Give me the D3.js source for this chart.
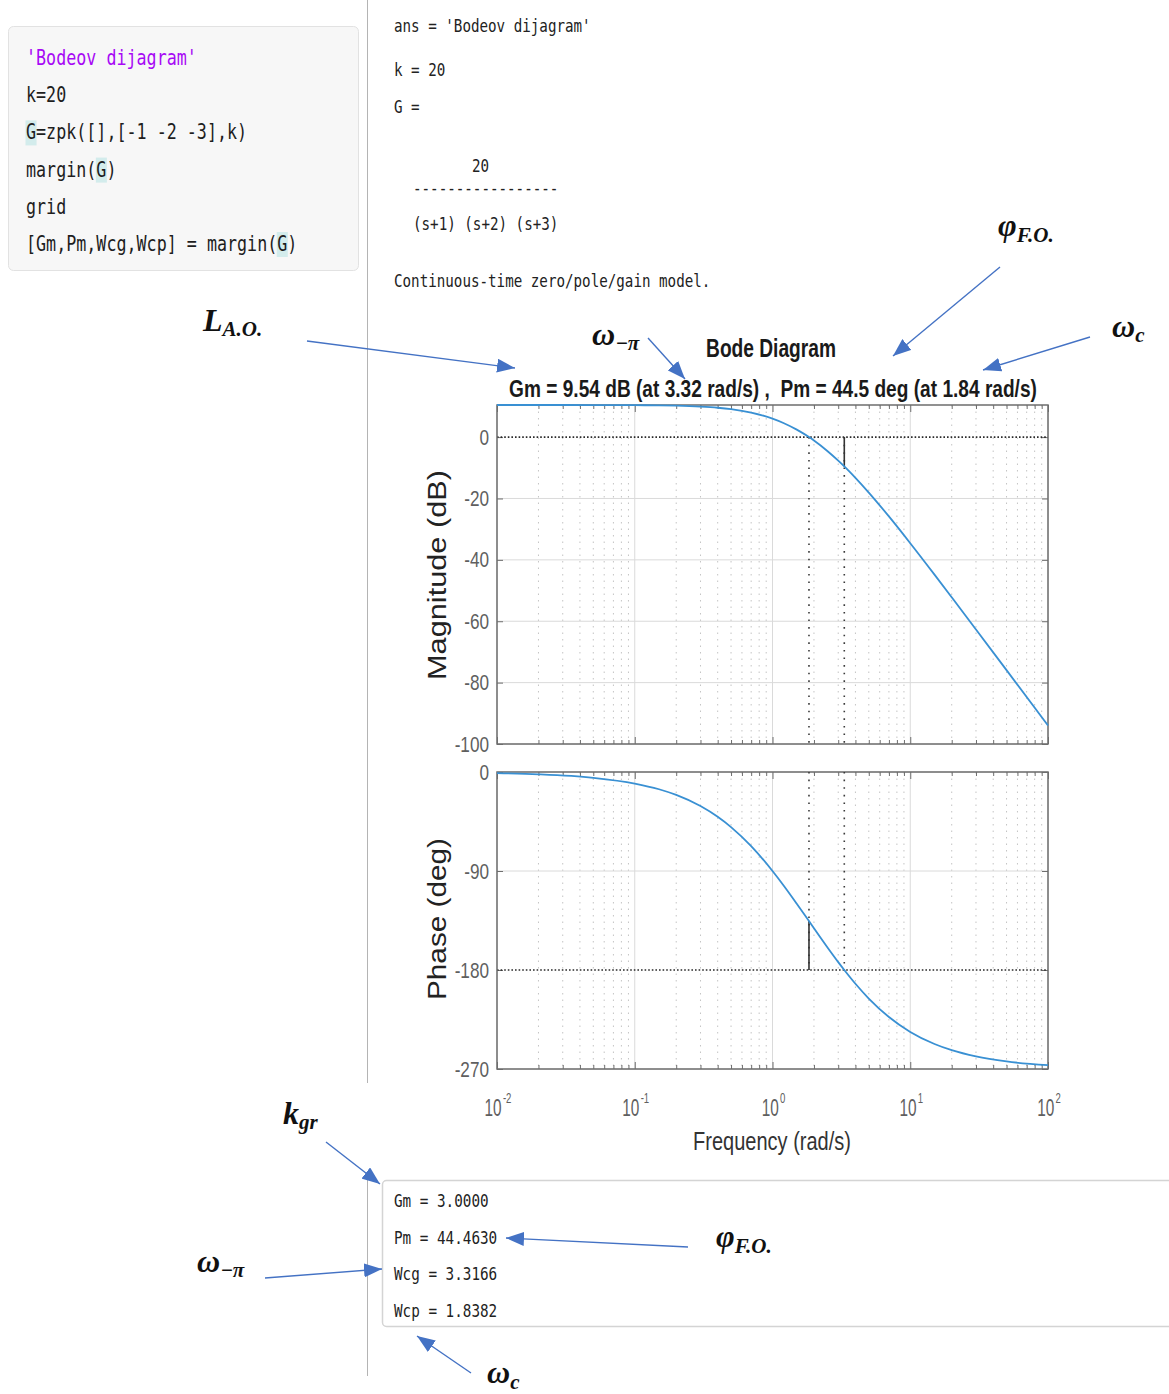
<!DOCTYPE html>
<html>
<head>
<meta charset="utf-8">
<script src="https://cdn.jsdelivr.net/npm/d3@7"></script>
<style>
  body { margin: 0; background: #fff; }
  svg text { font-family: "Liberation Sans", Arial, sans-serif; }
  .mono { font-family: "DejaVu Sans Mono", "Liberation Mono", monospace !important; }
  .math { font-family: "Liberation Serif", "DejaVu Serif", serif !important; font-weight: bold; font-style: italic; }
</style>
</head>
<body>
<svg id="page" width="1169" height="1394"></svg>
<script>
// ---- data ----
var freq = [0.01, 0.02, 0.05, 0.1, 0.15, 0.2, 0.3, 0.4, 0.5, 0.7, 1, 1.2, 1.5, 1.84, 2, 2.5, 3, 3.32, 4, 5, 7, 10, 15, 20, 30, 50, 100];
var magDb = [10.46, 10.46, 10.45, 10.40, 10.33, 10.23, 9.94, 9.57, 9.11, 7.99, 6.02, 4.60, 2.43, 0.0, -1.14, -4.52, -7.67, -9.54, -13.27, -18.07, -25.85, -34.57, -44.81, -52.19, -62.67, -75.94, -93.99];
var phaseDeg = [-1.05, -2.10, -5.25, -10.48, -15.68, -20.83, -30.94, -40.71, -50.07, -67.41, -90.0, -102.95, -119.75, -135.54, -142.12, -159.35, -172.88, -180.0, -192.52, -205.93, -222.72, -236.28, -247.29, -252.9, -258.57, -263.13, -266.56];

var magTicks = [0, -20, -40, -60, -80, -100];
var phaseTicks = [0, -90, -180, -270];
var freqTicks = [0.01, 0.1, 1, 10, 100];
var freqExponents = ["-2", "-1", "0", "1", "2"];

// margin() results
var marginNames = ["Gm", "Pm", "Wcg", "Wcp"];
var marginValues = ["3.0000", "44.4630", "3.3166", "1.8382"];
var gmDb = 9.54, wcg = 3.32, pm = 44.5, wcp = 1.84;

var codeLines = ["'Bodeov dijagram'", "k=20", "G=zpk([],[-1 -2 -3],k)", "margin(G)", "grid", "[Gm,Pm,Wcg,Wcp] = margin(G)"];
var consoleLines = ["ans = 'Bodeov dijagram'", "k = 20", "G =", "20", "-----------------", "(s+1) (s+2) (s+3)", "Continuous-time zero/pole/gain model."];

// ---- layout ----
var plotLeft = 497, plotRight = 1048;
var magTop = 405, magBottom = 744;
var phTop = 772, phBottom = 1069;

var svg = d3.select("#page");

// squeeze text horizontally (the figure in the picture is condensed)
function squeeze(sel, k) {
  sel.each(function() {
    var w = this.getComputedTextLength();
    d3.select(this).attr("textLength", w * k).attr("lengthAdjust", "spacingAndGlyphs");
  });
}
function fitWidth(sel, w) {
  sel.attr("textLength", w).attr("lengthAdjust", "spacingAndGlyphs");
}
// centred text scaled to a target width through a transform
function condensed(str, cx, y, size, width, attrs) {
  var t = svg.append("text").attr("x", 0).attr("y", 0)
    .attr("text-anchor", "middle").attr("font-size", size).text(str);
  Object.keys(attrs || {}).forEach(k => t.attr(k, attrs[k]));
  var k = width / t.node().getComputedTextLength();
  t.attr("transform", `translate(${cx},${y}) scale(${k},1)`);
  return t;
}

// ============ code box ============
svg.append("rect")
  .attr("x", 8.5).attr("y", 26.5).attr("width", 350).attr("height", 244).attr("rx", 5)
  .attr("fill", "#f7f7f7").attr("stroke", "#e2e2e2");

var codeCw = 10.05;
// highlighted G's
[[2, 0], [3, 7], [5, 25]].forEach(function(h) {
  svg.append("rect")
    .attr("x", 26 + h[1] * codeCw - 0.5).attr("y", 65 + h[0] * 37.2 - 19)
    .attr("width", codeCw + 1).attr("height", 25)
    .attr("fill", "#d3ecec");
});
svg.selectAll(".code").data(codeLines).enter()
  .append("text").attr("class", "mono")
  .attr("x", 26).attr("y", (d, i) => 65 + i * 37.2)
  .attr("font-size", 21)
  .attr("fill", (d, i) => i === 0 ? "#a709f5" : "#1e1e1e")
  .attr("xml:space", "preserve")
  .text(d => d)
  .each(function(d) { fitWidth(d3.select(this), d.length * codeCw); });

// separator lines
svg.append("line").attr("x1", 367.5).attr("x2", 367.5).attr("y1", 0).attr("y2", 1083)
  .attr("stroke", "#b4b4b4");
svg.append("line").attr("x1", 367.5).attr("x2", 367.5).attr("y1", 1180).attr("y2", 1376)
  .attr("stroke", "#b4b4b4");

// ============ console output ============
var conCw = 8.55;
var conPos = [[394, 32], [394, 76], [394, 113], [472, 172], [413, 194], [413, 230], [394, 287]];
svg.selectAll(".con").data(consoleLines).enter()
  .append("text").attr("class", "mono")
  .attr("x", (d, i) => conPos[i][0]).attr("y", (d, i) => conPos[i][1])
  .attr("font-size", 18).attr("fill", "#222")
  .text(d => d)
  .each(function(d) { fitWidth(d3.select(this), d.length * conCw); });

// ============ scales ============
var x = d3.scaleLog().domain([0.01, 100]).range([plotLeft, plotRight]);
var yMag = d3.scaleLinear().domain([-100, 10.46]).range([magBottom, magTop]);
var yPh = d3.scaleLinear().domain([-270, 0]).range([phBottom, phTop]);

var minorFreq = [];
[-2, -1, 0, 1].forEach(function(e) {
  for (var k = 2; k <= 9; k++) minorFreq.push(k * Math.pow(10, e));
});

function drawPanel(y, top, bottom, ticks, refLevel) {
  var g = svg.append("g");
  // minor vertical grid (dotted)
  g.selectAll(".mg").data(minorFreq).enter().append("line")
    .attr("x1", d => x(d)).attr("x2", d => x(d)).attr("y1", top).attr("y2", bottom)
    .attr("stroke", "#c4c4c4").attr("stroke-dasharray", "1.5,5");
  // major vertical grid
  g.selectAll(".Mg").data(freqTicks).enter().append("line")
    .attr("x1", d => x(d)).attr("x2", d => x(d)).attr("y1", top).attr("y2", bottom)
    .attr("stroke", "#dadada");
  // horizontal grid
  g.selectAll(".hg").data(ticks.filter(t => t !== refLevel)).enter().append("line")
    .attr("x1", plotLeft).attr("x2", plotRight).attr("y1", d => y(d)).attr("y2", d => y(d))
    .attr("stroke", "#dadada");

  // ticks on all four sides
  var axL = d3.axisLeft(y).tickValues(ticks).tickSize(-6).tickPadding(8).tickFormat(d => String(d));
  var axR = d3.axisRight(y).tickValues(ticks).tickSize(-6).tickFormat("");
  var axB = d3.axisBottom(x).tickValues(freqTicks).tickSize(-7).tickFormat("");
  var axT = d3.axisTop(x).tickValues(freqTicks).tickSize(-7).tickFormat("");
  var axBm = d3.axisBottom(x).tickValues(minorFreq).tickSize(-4).tickFormat("");
  var axTm = d3.axisTop(x).tickValues(minorFreq).tickSize(-4).tickFormat("");

  var left = g.append("g").attr("transform", `translate(${plotLeft},0)`).call(axL);
  g.append("g").attr("transform", `translate(${plotRight},0)`).call(axR);
  g.append("g").attr("transform", `translate(0,${bottom})`).call(axB);
  g.append("g").attr("transform", `translate(0,${top})`).call(axT);
  g.append("g").attr("transform", `translate(0,${bottom})`).call(axBm);
  g.append("g").attr("transform", `translate(0,${top})`).call(axTm);
  g.selectAll(".domain").remove();
  g.selectAll(".tick line").attr("stroke", "#6e6e6e");
  left.selectAll("text")
    .attr("font-size", 22).attr("fill", "#5f5f5f")
    .attr("font-family", "Liberation Sans, Arial, sans-serif")
    .call(squeeze, 0.78);

  // reference dotted line (0 dB / -180 deg)
  g.append("line")
    .attr("x1", plotLeft).attr("x2", plotRight).attr("y1", y(refLevel)).attr("y2", y(refLevel))
    .attr("stroke", "#2a2a2a").attr("stroke-width", 1.6).attr("stroke-dasharray", "1.6,2");

  // box
  g.append("rect")
    .attr("x", plotLeft).attr("y", top).attr("width", plotRight - plotLeft).attr("height", bottom - top)
    .attr("fill", "none").attr("stroke", "#6e6e6e").attr("stroke-width", 1.5);
  return g;
}

var magG = drawPanel(yMag, magTop, magBottom, magTicks, 0);
var phG = drawPanel(yPh, phTop, phBottom, phaseTicks, -180);

// margin markers: dotted verticals
[wcp, wcg].forEach(function(w) {
  magG.append("line")
    .attr("x1", x(w)).attr("x2", x(w)).attr("y1", yMag(0)).attr("y2", magBottom)
    .attr("stroke", "#3a3a3a").attr("stroke-width", 1.6).attr("stroke-dasharray", "1.6,6");
  phG.append("line")
    .attr("x1", x(w)).attr("x2", x(w)).attr("y1", phTop).attr("y2", yPh(-180))
    .attr("stroke", "#3a3a3a").attr("stroke-width", 1.6).attr("stroke-dasharray", "1.6,6");
});
// solid margin bars
magG.append("line")
  .attr("x1", x(wcg)).attr("x2", x(wcg)).attr("y1", yMag(0)).attr("y2", yMag(-gmDb))
  .attr("stroke", "#333").attr("stroke-width", 1.6);
phG.append("line")
  .attr("x1", x(wcp)).attr("x2", x(wcp)).attr("y1", yPh(-180)).attr("y2", yPh(-180 + pm))
  .attr("stroke", "#333").attr("stroke-width", 1.6);

// curves
var magLine = d3.line()
  .x((d, i) => x(freq[i]))
  .y(d => yMag(d))
  .curve(d3.curveMonotoneX);
var phLine = d3.line()
  .x((d, i) => x(freq[i]))
  .y(d => yPh(d))
  .curve(d3.curveMonotoneX);

magG.append("path").datum(magDb)
  .attr("d", magLine).attr("fill", "none").attr("stroke", "#3990d3").attr("stroke-width", 1.8);
phG.append("path").datum(phaseDeg)
  .attr("d", phLine).attr("fill", "none").attr("stroke", "#3990d3").attr("stroke-width", 1.8);

// x tick labels 10^n: base and exponent side by side, condensed by a transform
freqTicks.forEach(function(f, i) {
  var t = svg.append("g");
  var base = t.append("text").attr("x", 0).attr("y", 0)
    .attr("font-size", 24).attr("fill", "#5f5f5f").text("10");
  var bw = base.node().getComputedTextLength();
  var sup = t.append("text").attr("x", bw + 2).attr("y", -13)
    .attr("font-size", 15).attr("fill", "#5f5f5f").text(freqExponents[i]);
  var tw = (bw + 2 + sup.node().getComputedTextLength()) * 0.64;
  t.attr("transform", `translate(${x(f) - tw / 2 + 1},1116) scale(0.64,1)`);
});

// axis titles
condensed("Frequency  (rad/s)", 772, 1150, 25, 158, { fill: "#333" });

svg.append("text")
  .attr("transform", "translate(446,575) rotate(-90)")
  .attr("text-anchor", "middle").attr("font-size", 25).attr("fill", "#222")
  .text("Magnitude  (dB)")
  .call(fitWidth, 210);
svg.append("text")
  .attr("transform", "translate(446,919) rotate(-90)")
  .attr("text-anchor", "middle").attr("font-size", 25).attr("fill", "#222")
  .text("Phase  (deg)")
  .call(fitWidth, 162);

// chart titles
condensed("Bode Diagram", 771, 357, 25, 130, { "font-weight": "bold", fill: "#1a1a1a" });
condensed(`Gm = ${gmDb} dB (at ${wcg} rad/s) ,\u00a0 Pm = ${pm} deg (at ${wcp} rad/s)`,
  773, 397, 24, 528, { "font-weight": "bold", fill: "#1a1a1a" });

// ============ results box ============
svg.append("rect")
  .attr("x", 382.5).attr("y", 1180.5).attr("width", 820).attr("height", 146).attr("rx", 4)
  .attr("fill", "#fff").attr("stroke", "#d4d4d4").attr("stroke-width", 1.5);
svg.selectAll(".res").data(marginNames).enter()
  .append("text").attr("class", "mono")
  .attr("x", 394).attr("y", (d, i) => 1207 + i * 36.7)
  .attr("font-size", 18).attr("fill", "#222")
  .text((d, i) => `${d} = ${marginValues[i]}`)
  .each(function(d, i) { fitWidth(d3.select(this), (d.length + 3 + marginValues[i].length) * 8.6); });

// ============ annotations ============
var defs = svg.append("defs");
defs.append("marker")
  .attr("id", "head").attr("markerUnits", "userSpaceOnUse")
  .attr("viewBox", "0 0 18 14").attr("refX", 18).attr("refY", 7)
  .attr("markerWidth", 18).attr("markerHeight", 14).attr("orient", "auto")
  .append("path").attr("d", "M0,0 L18,7 L0,14 Z").attr("fill", "#4472c4");

var arrows = [
  [307, 341, 515, 368], [648, 338, 685, 379], [1000, 267, 893, 356], [1090, 337, 983, 370],
  [326, 1142, 380, 1184], [688, 1247, 506, 1238], [265, 1278, 382, 1269], [471, 1373, 417, 1336]
];
svg.selectAll(".arrow").data(arrows).enter().append("line")
  .attr("x1", d => d[0]).attr("y1", d => d[1]).attr("x2", d => d[2]).attr("y2", d => d[3])
  .attr("stroke", "#4472c4").attr("stroke-width", 1.4).attr("marker-end", "url(#head)");

// [x, y, main symbol, subscript, sub dy]
var labels = [
  [203, 331, "L", "A.O.", 5],
  [592, 345, "\u03c9", "\u2212\u03c0", 5],
  [998, 236, "\u03c6", "F.O.", 6],
  [1112, 337, "\u03c9", "c", 5],
  [283, 1124, "k", "gr", 5],
  [716, 1247, "\u03c6", "F.O.", 6],
  [197, 1272, "\u03c9", "\u2212\u03c0", 5],
  [487, 1383, "\u03c9", "c", 6]
];
labels.forEach(function(l) {
  var t = svg.append("text").attr("class", "math").attr("x", l[0]).attr("y", l[1]).attr("fill", "#111");
  t.append("tspan").attr("font-size", 32).text(l[2]);
  t.append("tspan").attr("font-size", 21).attr("dy", l[4]).text(l[3]);
});
</script>
</body>
</html>
